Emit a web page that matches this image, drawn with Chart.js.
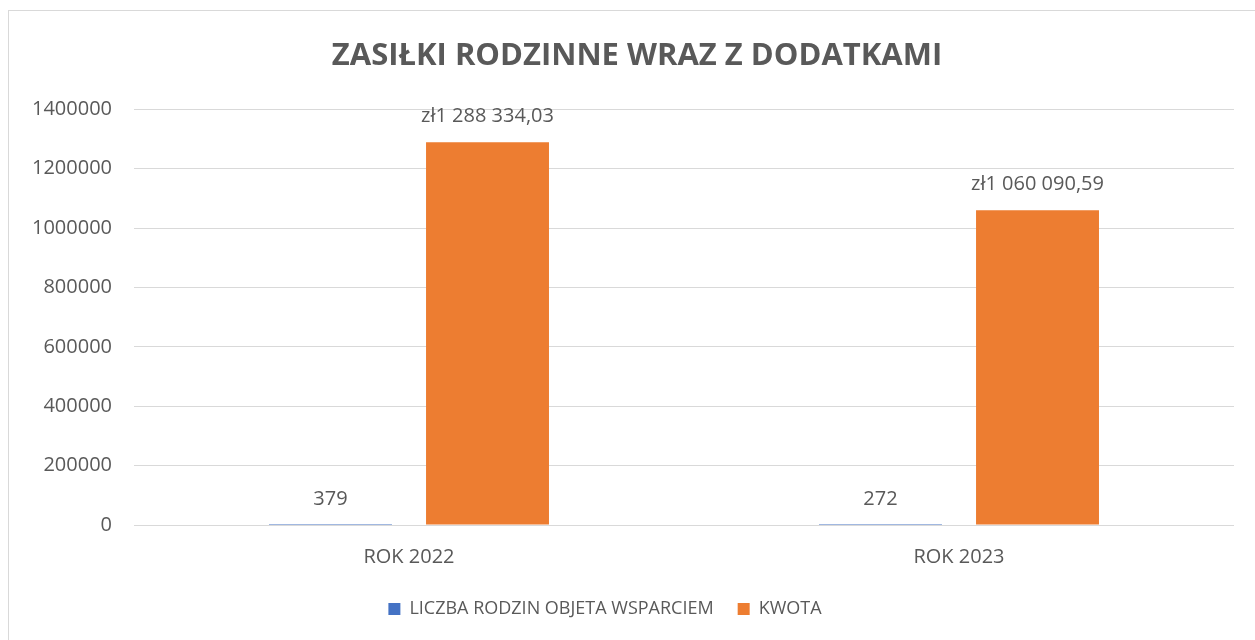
<!DOCTYPE html>
<html>
<head>
<meta charset="utf-8">
<script src="https://cdn.jsdelivr.net/npm/chart.js@4"></script>
<style>
  html, body { margin: 0; padding: 0; background: #fff; overflow: hidden; }
  #frame { position: absolute; left: 8px; top: 10px; width: 1260px; height: 640px; border: 1px solid #d9d9d9; }
  #wrap { position: absolute; left: 0; top: 0; width: 1255px; height: 640px; }
</style>
</head>
<body>
<div id="frame"></div>
<div id="wrap"><canvas id="myGraph"></canvas></div>
<script>
/* DATOS DEL GRAFICO */
const categories = ["ROK 2022", "ROK 2023"];
const families = [379, 272];
const amounts = [1288334.03, 1060090.59];
const seriesNames = ["LICZBA RODZIN OBJETA WSPARCIEM", "KWOTA"];
const yTicks = [0, 200000, 400000, 600000, 800000, 1000000, 1200000, 1400000];

const textColor = "#595959";
const font = "'Open Sans', sans-serif";

/* FORMATO DE LAS ETIQUETAS */
function formatZl(v) {
  const parts = v.toFixed(2).split(".");
  const ints = parts[0].replace(/\B(?=(\d{3})+(?!\d))/g, " ");
  return "zł" + ints + "," + parts[1];
}

/* PLUGIN PARA LAS ETIQUETAS DE DATOS */
const barLabels = {
  id: "barLabels",
  afterDatasetsDraw(chart) {
    const ctx = chart.ctx;
    ctx.save();
    ctx.font = "20px " + font;
    ctx.fillStyle = textColor;
    ctx.textAlign = "center";
    ctx.textBaseline = "middle";
    chart.data.datasets.forEach((ds, i) => {
      chart.getDatasetMeta(i).data.forEach((bar, j) => {
        const txt = i === 1 ? formatZl(ds.data[j]) : String(ds.data[j]);
        ctx.fillText(txt, bar.x, bar.y - 26);
      });
    });
    ctx.restore();
  }
};

/* PLUGIN PARA MOVER TITULO Y LEYENDA */
const shiftBlocks = {
  id: "shiftBlocks",
  afterLayout(chart) {
    if (chart.titleBlock) { chart.titleBlock.left += 20; chart.titleBlock.right += 20; }
    if (chart.legend) { chart.legend.left -= 12; chart.legend.right -= 12; }
  }
};

const config = {
  type: "bar",
  data: {
    labels: categories,
    datasets: [
      { label: seriesNames[0], data: families, backgroundColor: "#4472C4",
        categoryPercentage: 0.571, barPercentage: 0.783 },
      { label: seriesNames[1], data: amounts, backgroundColor: "#ED7D31",
        categoryPercentage: 0.571, barPercentage: 0.783 }
    ]
  },
  options: {
    responsive: false,
    animation: false,
    layout: { padding: { left: 0, right: 21, top: 0, bottom: 12 } },
    plugins: {
      title: {
        display: true,
        text: "ZASIŁKI RODZINNE WRAZ Z DODATKAMI",
        color: textColor,
        font: { family: font, size: 31, weight: "bold" },
        padding: { top: 38, bottom: 34 }
      },
      legend: {
        position: "bottom",
        labels: {
          color: textColor,
          font: { family: font, size: 18 },
          boxWidth: 12, boxHeight: 12, padding: 24
        }
      },
      tooltip: { enabled: false }
    },
    scales: {
      x: {
        grid: { display: false },
        border: { display: false },
        ticks: { color: textColor, font: { family: font, size: 20 }, padding: 12 },
        afterFit(scale) { scale.height = 51; }
      },
      y: {
        min: 0, max: 1400000,
        afterBuildTicks(scale) { scale.ticks = yTicks.map(v => ({ value: v })); },
        grid: { color: "#d9d9d9", drawTicks: false },
        border: { display: false },
        ticks: {
          color: textColor, font: { family: font, size: 20 }, padding: 22,
          callback: (v) => String(v)
        },
        afterFit(scale) { scale.width = 134; }
      }
    }
  },
  plugins: [barLabels, shiftBlocks]
};

const canvas = document.getElementById("myGraph");
canvas.width = 1255;
canvas.height = 640;
new Chart(canvas, config);
</script>
</body>
</html>
